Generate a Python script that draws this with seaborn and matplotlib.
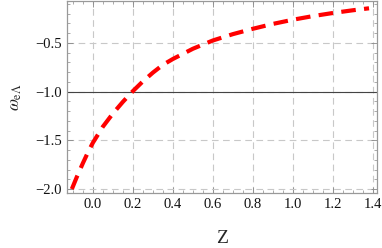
import matplotlib
matplotlib.use('Agg')
import matplotlib.pyplot as plt
import seaborn as sns
import pandas as pd
from matplotlib.ticker import MultipleLocator

# Values
z = [-0.105, -0.08, -0.05, -0.025, 0.0, 0.05, 0.1, 0.15, 0.2, 0.25, 0.3, 0.35, 0.4,
     0.5, 0.6, 0.7, 0.8, 0.9, 1.0, 1.1, 1.2, 1.3, 1.38]
w = [-2.0, -1.875, -1.735, -1.625, -1.525, -1.36, -1.225, -1.105, -0.995, -0.895, -0.805, -0.725, -0.665,
     -0.56, -0.475, -0.41, -0.355, -0.305, -0.262, -0.225, -0.193, -0.165, -0.145]
x_ticks = [0.0, 0.2, 0.4, 0.6, 0.8, 1.0, 1.2, 1.4]
y_ticks = [-2.0, -1.5, -1.0, -0.5]

df = pd.DataFrame({'Z': z, 'w': w})

sns.set_style('ticks')
plt.rcParams['font.family'] = ['Liberation Serif', 'DejaVu Serif']
plt.rcParams['mathtext.fontset'] = 'stix'

fig = plt.figure(figsize=(3.82, 2.48), dpi=100)
ax = fig.add_axes([0.175, 0.222, 0.812, 0.774])

ax.axhline(-1.0, color='#444444', lw=0.8, zorder=1)
sns.lineplot(data=df, x='Z', y='w', ax=ax, color='#ff0000', lw=3.0,
             linestyle=(0, (3.5, 2)), zorder=3)

ax.set_xlim(-0.13, 1.42)
ax.set_ylim(-2.04, -0.07)
ax.set_xticks(x_ticks)
ax.set_yticks(y_ticks)
ax.set_xticklabels([f'{v:.1f}' for v in x_ticks])
ax.set_yticklabels([f'\u2212{abs(v):.1f}' for v in y_ticks])
ax.xaxis.set_minor_locator(MultipleLocator(0.05))
ax.yaxis.set_minor_locator(MultipleLocator(0.1))
ax.grid(True, which='major', color='#c8c8c8', linestyle=(0, (6, 4)), lw=0.8)
ax.tick_params(which='both', direction='in', top=True, right=True, color='#888888',
               labelsize=10.5, labelcolor='#111111')
ax.tick_params(which='major', length=4, width=0.6)
ax.tick_params(which='minor', length=2, width=0.5)
for s in ax.spines.values():
    s.set_color('#999999')
    s.set_linewidth(0.9)

ax.set_xlabel('Z', fontsize=14, labelpad=14)
ax.set_ylabel(r'$\omega_{\mathrm{e}\Lambda}$', fontsize=12.5, labelpad=8)

fig.savefig('out.png', dpi=100)
